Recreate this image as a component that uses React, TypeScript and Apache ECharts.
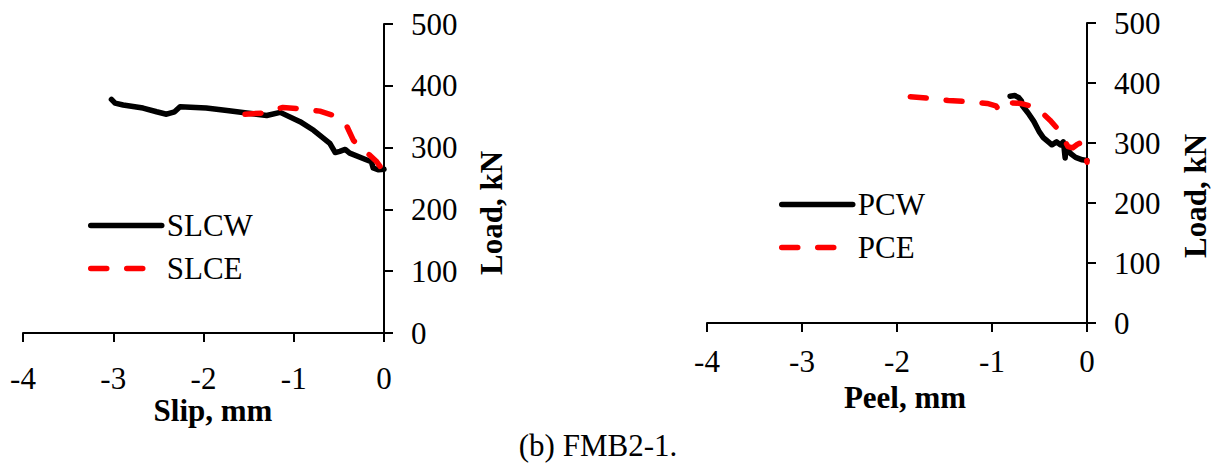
import React, { useEffect, useRef } from "react";
import * as echarts from "echarts";

const xTicks = [-4, -3, -2, -1, 0];
const yTicks = [0, 100, 200, 300, 400, 500];

const slcw: [number, number][] = [
  [-3.02, 378], [-2.98, 372], [-2.89, 369], [-2.67, 364], [-2.52, 358], [-2.41, 354],
  [-2.32, 358], [-2.26, 366], [-1.97, 364], [-1.74, 360], [-1.52, 356], [-1.30, 352],
  [-1.15, 357], [-0.93, 342], [-0.78, 328], [-0.60, 307], [-0.54, 292], [-0.49, 294],
  [-0.43, 297], [-0.38, 291], [-0.19, 280], [-0.14, 277], [-0.12, 267], [-0.06, 264], [0, 265],
];
const slce: [number, number][] = [
  [-1.54, 354], [-1.34, 356], [-1.12, 365], [-0.93, 363], [-0.71, 359], [-0.58, 353],
  [-0.41, 334], [-0.34, 312], [-0.23, 296], [-0.16, 288], [-0.08, 277], [-0.03, 267], [0, 266],
];
const pcw: [number, number][] = [
  [-0.81, 378], [-0.76, 379], [-0.72, 376], [-0.69, 370], [-0.68, 362], [-0.62, 350],
  [-0.56, 336], [-0.50, 318], [-0.46, 309], [-0.40, 301], [-0.37, 297], [-0.32, 302],
  [-0.28, 297], [-0.25, 302], [-0.24, 290], [-0.23, 275], [-0.22, 292], [-0.17, 282],
  [-0.12, 276], [-0.05, 272], [0, 271],
];
const pce: [number, number][] = [
  [-1.86, 377], [-1.69, 375], [-1.46, 371], [-1.27, 369], [-1.05, 366], [-0.96, 362],
  [-0.92, 354], [-0.88, 362], [-0.80, 367], [-0.70, 366], [-0.60, 362], [-0.53, 358],
  [-0.45, 347], [-0.39, 338], [-0.30, 322], [-0.20, 294], [-0.15, 292], [-0.10, 298],
  [-0.07, 300], [-0.03, 290], [-0.01, 280], [0, 268],
];

const FONT = "'Times New Roman', 'Liberation Serif', serif";
const FS = 31;

export default function App() {
  const ref = useRef<HTMLDivElement>(null);
  useEffect(() => {
    if (!ref.current) return;
    const chart = echarts.init(ref.current, undefined, { renderer: "svg" });
    const axisLine = { show: true, onZero: false, lineStyle: { color: "#000", width: 2 } };
    const axisTick = { show: true, length: 9, lineStyle: { color: "#000", width: 2 } };
    const mkX = (idx: number, name: string, margin: number, gap: number, padLeft: number) => ({
      type: "value", gridIndex: idx, min: xTicks[0], max: xTicks[xTicks.length - 1], interval: 1,
      position: "bottom", axisLine, axisTick, splitLine: { show: false },
      axisLabel: { color: "#000", fontFamily: FONT, fontSize: FS, margin, lineHeight: 24 },
      name, nameLocation: "middle", nameGap: gap, nameMoveOverlap: false,
      nameTextStyle: { color: "#000", fontFamily: FONT, fontSize: FS, fontWeight: "bold", lineHeight: 24, padding: [0, 0, 0, padLeft] },
    });
    const mkY = (idx: number, gap: number, padRight: number) => ({
      type: "value", gridIndex: idx, min: yTicks[0], max: yTicks[yTicks.length - 1], interval: 100,
      position: "right", axisLine, axisTick, splitLine: { show: false },
      axisLabel: { color: "#000", fontFamily: FONT, fontSize: FS, margin: 27 },
      name: "Load, kN", nameLocation: "middle", nameGap: gap, nameMoveOverlap: false,
      nameTextStyle: { color: "#000", fontFamily: FONT, fontSize: FS, fontWeight: "bold", padding: [0, padRight, 0, 0] },
    });
    const solid = { color: "#000", width: 5.5, type: "solid", cap: "round", join: "round" };
    const dashed = { color: "#ff0000", width: 5.5, type: [16, 20], cap: "round", join: "round" };
    const legendBase = {
      orient: "vertical", itemWidth: 71, itemHeight: 20, itemGap: 12, padding: 0,
      textStyle: { color: "#000", fontFamily: FONT, fontSize: FS },
      lineStyle: { width: 5.5, cap: "round" }, itemStyle: { opacity: 0 }, selectedMode: false,
    };
    chart.setOption({
      animation: false,
      backgroundColor: "#fff",
      grid: [
        { left: 23, top: 24, width: 361, height: 309 },
        { left: 707, top: 23, width: 380, height: 300 },
      ],
      xAxis: [mkX(0, "Slip, mm", 33, 65, 19), mkX(1, "Peel, mm", 26, 62, 16)],
      yAxis: [mkY(0, 92, 69), mkY(1, 93, 46)],
      legend: [
        { ...legendBase, left: 88, top: 210, data: ["SLCW", "SLCE"] },
        { ...legendBase, left: 779, top: 189, data: ["PCW", "PCE"] },
      ],
      series: [
        { name: "SLCW", type: "line", xAxisIndex: 0, yAxisIndex: 0, data: slcw, symbol: "none", lineStyle: solid, itemStyle: { color: "#000" } },
        { name: "SLCE", type: "line", xAxisIndex: 0, yAxisIndex: 0, data: slce, symbol: "none", lineStyle: dashed, itemStyle: { color: "#ff0000" } },
        { name: "PCW", type: "line", xAxisIndex: 1, yAxisIndex: 1, data: pcw, symbol: "none", lineStyle: solid, itemStyle: { color: "#000" } },
        { name: "PCE", type: "line", xAxisIndex: 1, yAxisIndex: 1, data: pce, symbol: "none", lineStyle: dashed, itemStyle: { color: "#ff0000" } },
      ],
      graphic: [
        {
          type: "text", x: 598, y: 445,
          style: { text: "(b) FMB2-1.", fill: "#000", font: `${FS}px ${FONT}`, textAlign: "center", textVerticalAlign: "middle" },
        },
      ],
    });
    return () => chart.dispose();
  }, []);
  return <div ref={ref} style={{ position: "fixed", left: 0, top: 0, width: 1222, height: 464 }} />;
}
